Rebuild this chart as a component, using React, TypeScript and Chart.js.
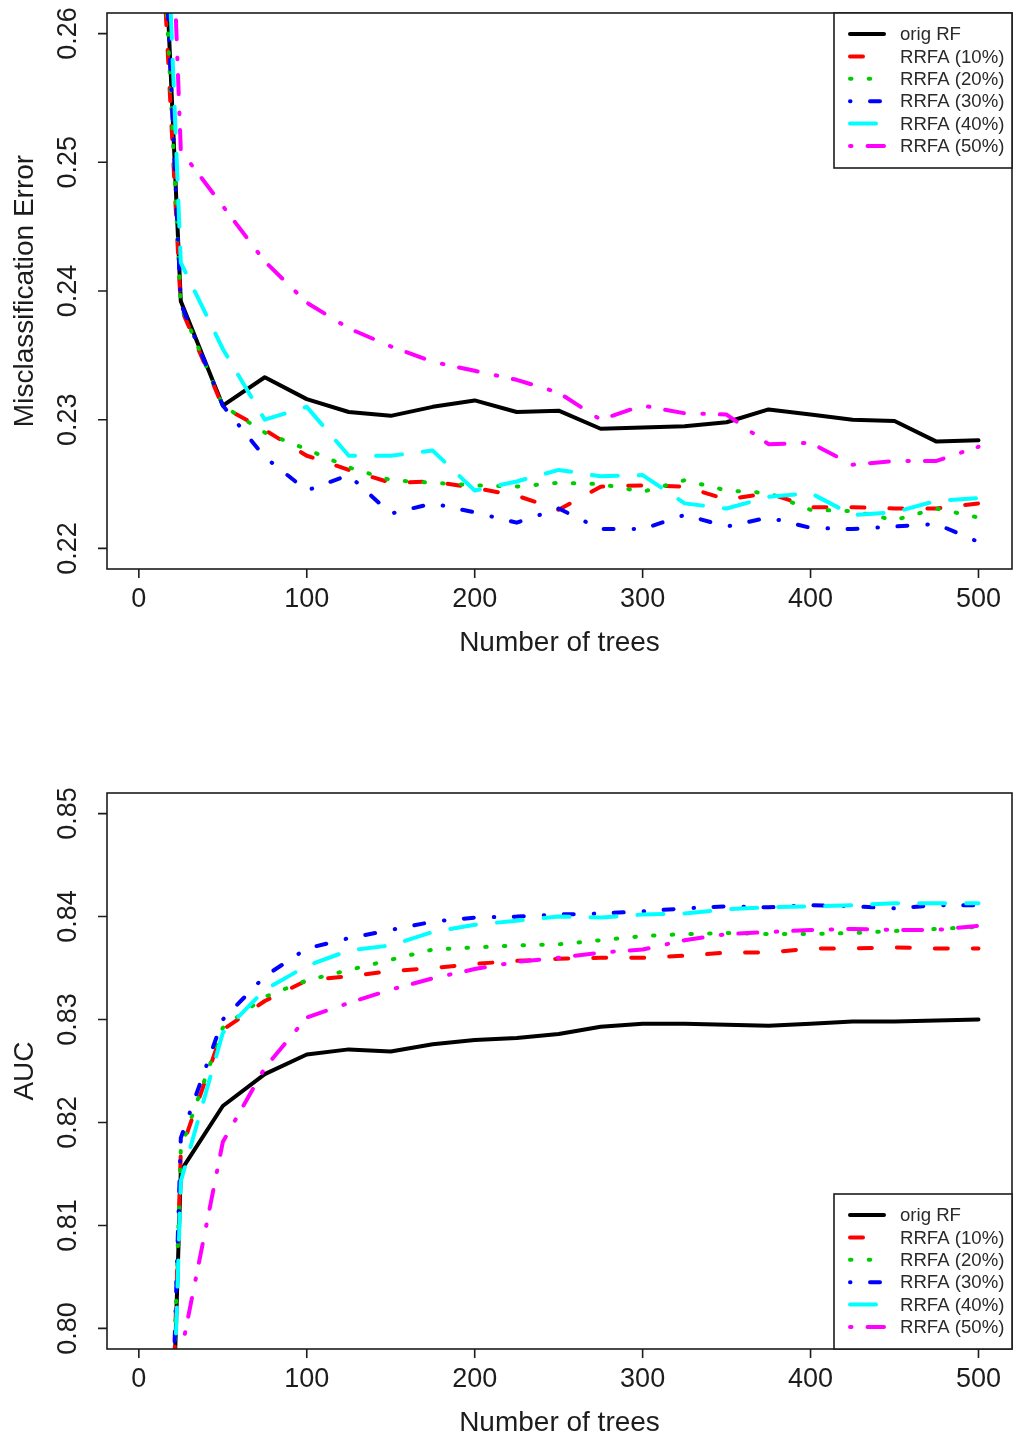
import React, { useEffect, useRef } from "react";
import { Chart, registerables } from "chart.js";

Chart.register(...registerables);

// ---------- data ----------
const trees = [1, 25, 50, 75, 100, 125, 150, 175, 200, 225, 250, 275, 300, 325, 350, 375, 400, 425, 450, 475, 500];

const seriesLabels = ["orig RF", "RRFA (10%)", "RRFA (20%)", "RRFA (30%)", "RRFA (40%)", "RRFA (50%)"];

const errOrig = [0.310, 0.2392, 0.2311, 0.2333, 0.2316, 0.2306, 0.2303, 0.2310, 0.2315, 0.2306, 0.2307, 0.2293, 0.2294, 0.2295, 0.2298, 0.2308, 0.2304, 0.2300, 0.2299, 0.2283, 0.2284];
const err10 = [0.300, 0.2387, 0.2310, 0.2292, 0.2272, 0.2261, 0.2251, 0.2252, 0.2247, 0.2241, 0.2230, 0.2248, 0.2249, 0.2248, 0.2238, 0.2243, 0.2232, 0.2232, 0.2231, 0.2231, 0.2235];
const err20 = [0.305, 0.2388, 0.2311, 0.2290, 0.2277, 0.2263, 0.2253, 0.2251, 0.2249, 0.2248, 0.2251, 0.2250, 0.2244, 0.2253, 0.2245, 0.2243, 0.2230, 0.2229, 0.2222, 0.2231, 0.2224];
const err30 = [0.310, 0.2390, 0.2311, 0.2271, 0.2245, 0.2257, 0.2227, 0.2235, 0.2228, 0.2220, 0.2231, 0.2215, 0.2215, 0.2226, 0.2217, 0.2224, 0.2216, 0.2215, 0.2217, 0.2219, 0.2205];
const err40 = [0.320, 0.2422, 0.2355, 0.2300, 0.2310, 0.2272, 0.2272, 0.2276, 0.2245, 0.2252, 0.2261, 0.2256, 0.2257, 0.2235, 0.2231, 0.2240, 0.2243, 0.2226, 0.2228, 0.2237, 0.2239];
const err50 = [0.335, 0.2509, 0.2466, 0.2423, 0.2391, 0.2371, 0.2357, 0.2345, 0.2338, 0.2331, 0.2321, 0.2300, 0.2311, 0.2305, 0.2304, 0.2281, 0.2282, 0.2265, 0.2268, 0.2268, 0.2279];

const aucOrig = [0.69, 0.8153, 0.8216, 0.8247, 0.8266, 0.8271, 0.8269, 0.8276, 0.8280, 0.8282, 0.8286, 0.8293, 0.8296, 0.8296, 0.8295, 0.8294, 0.8296, 0.8298, 0.8298, 0.8299, 0.8300];
const auc10 = [0.69, 0.8172, 0.8290, 0.8318, 0.8338, 0.8342, 0.8347, 0.8350, 0.8354, 0.8357, 0.8359, 0.8360, 0.8360, 0.8362, 0.8365, 0.8365, 0.8369, 0.8369, 0.8370, 0.8369, 0.8369];
const auc20 = [0.69, 0.8175, 0.8292, 0.8322, 0.8338, 0.8348, 0.8358, 0.8368, 0.8370, 0.8372, 0.8373, 0.8377, 0.8381, 0.8383, 0.8384, 0.8383, 0.8383, 0.8384, 0.8386, 0.8388, 0.8390];
const auc30 = [0.69, 0.8185, 0.8300, 0.8342, 0.8369, 0.8379, 0.8387, 0.8395, 0.8399, 0.8400, 0.8402, 0.8403, 0.8405, 0.8408, 0.8410, 0.8409, 0.8411, 0.8410, 0.8408, 0.8411, 0.8411];
const auc40 = [0.69, 0.8143, 0.8287, 0.8329, 0.8352, 0.8367, 0.8372, 0.8385, 0.8392, 0.8396, 0.8400, 0.8399, 0.8402, 0.8403, 0.8407, 0.8409, 0.8410, 0.8411, 0.8413, 0.8413, 0.8413];
const auc50 = [0.65, 0.7975, 0.8181, 0.8253, 0.8302, 0.8316, 0.8329, 0.8340, 0.8349, 0.8356, 0.8360, 0.8365, 0.8368, 0.8377, 0.8383, 0.8385, 0.8387, 0.8388, 0.8387, 0.8387, 0.8391];

const xTicks = [0, 100, 200, 300, 400, 500];
const xTickLabels = ["0", "100", "200", "300", "400", "500"];
const errTicks = [0.22, 0.23, 0.24, 0.25, 0.26];
const errTickLabels = ["0.22", "0.23", "0.24", "0.25", "0.26"];
const aucTicks = [0.80, 0.81, 0.82, 0.83, 0.84, 0.85];
const aucTickLabels = ["0.80", "0.81", "0.82", "0.83", "0.84", "0.85"];

const xTitle = "Number of trees";
const errTitle = "Misclassification Error";
const aucTitle = "AUC";

// ---------- styles ----------
const seriesColors = ["#000000", "#FF0000", "#00CD00", "#0000FF", "#00FFFF", "#FF00FF"];
const seriesDashes: number[][] = [[], [13, 25], [1.5, 17.2], [0.5, 19.5, 10, 20], [26, 21], [1.5, 16, 19, 18.5]];
const FONT = '"Liberation Sans", Arial, Helvetica, sans-serif';
const INK = "#1c1c1c";

function makeDatasets(series: number[][]) {
  return series.map((vals, i) => ({
    label: seriesLabels[i],
    data: trees.map((t, j) => ({ x: t, y: vals[j] })),
    borderColor: seriesColors[i],
    backgroundColor: seriesColors[i],
    borderWidth: 4,
    borderDash: seriesDashes[i],
    borderCapStyle: "round",
    borderJoinStyle: "round",
    pointRadius: 0,
    pointHoverRadius: 0,
    tension: 0,
    fill: false,
    order: series.length - 1 - i,
    clip: 0,
  }));
}

const rPlotPlugin = {
  id: "rplot",
  afterDraw(chart: any, _args: any, opts: any) {
    const { ctx, chartArea: a, scales } = chart;
    const xs = scales.x;
    const ys = scales.y;
    ctx.save();
    // box
    ctx.setLineDash([]);
    ctx.strokeStyle = INK;
    ctx.lineWidth = 1.6;
    ctx.strokeRect(a.left, a.top, a.right - a.left, a.bottom - a.top);
    // ticks
    ctx.beginPath();
    for (const v of opts.xTicks) {
      const p = xs.getPixelForValue(v);
      ctx.moveTo(p, a.bottom);
      ctx.lineTo(p, a.bottom + 9);
    }
    for (const v of opts.yTicks) {
      const p = ys.getPixelForValue(v);
      ctx.moveTo(a.left - 9, p);
      ctx.lineTo(a.left, p);
    }
    ctx.stroke();
    // tick labels
    ctx.fillStyle = INK;
    ctx.font = `27px ${FONT}`;
    ctx.textAlign = "center";
    ctx.textBaseline = "middle";
    opts.xTicks.forEach((v: number, i: number) => {
      ctx.fillText(opts.xLabels[i], xs.getPixelForValue(v), a.bottom + 31);
    });
    opts.yTicks.forEach((v: number, i: number) => {
      ctx.save();
      ctx.translate(a.left - 38, ys.getPixelForValue(v));
      ctx.rotate(-Math.PI / 2);
      ctx.fillText(opts.yLabels[i], 0, 0);
      ctx.restore();
    });
    // titles
    ctx.font = `28px ${FONT}`;
    ctx.fillText(opts.xTitle, (a.left + a.right) / 2, a.bottom + 74);
    ctx.save();
    ctx.translate(a.left - 82, (a.top + a.bottom) / 2);
    ctx.rotate(-Math.PI / 2);
    ctx.fillText(opts.yTitle, 0, 0);
    ctx.restore();
    // legend
    const lw = 178;
    const lh = 155;
    const bx = a.right - lw;
    const by = opts.legendPos === "top" ? a.top : a.bottom - lh;
    ctx.fillStyle = "#ffffff";
    ctx.fillRect(bx, by, lw, lh);
    ctx.strokeStyle = INK;
    ctx.lineWidth = 1.6;
    ctx.strokeRect(bx, by, lw, lh);
    ctx.font = `18.6px ${FONT}`;
    ctx.textAlign = "left";
    chart.data.datasets.forEach((ds: any, i: number) => {
      const ry = by + 21 + i * 22.4;
      ctx.save();
      ctx.strokeStyle = ds.borderColor;
      ctx.lineWidth = ds.borderWidth;
      ctx.lineCap = "round";
      ctx.setLineDash(ds.borderDash || []);
      ctx.beginPath();
      ctx.moveTo(bx + 16, ry);
      ctx.lineTo(bx + 50, ry);
      ctx.stroke();
      ctx.restore();
      ctx.fillStyle = "#2a2a2a";
      ctx.fillText(ds.label, bx + 66, ry + 1);
    });
    ctx.restore();
  },
};

function buildConfig(series: number[][], yTicks: number[], yLabels: string[], yTitle: string, legendPos: string, padding: any) {
  const xSpan = trees[trees.length - 1] - trees[0];
  const ySpan = yTicks[yTicks.length - 1] - yTicks[0];
  return {
    type: "line",
    data: { datasets: makeDatasets(series) },
    options: {
      animation: false,
      responsive: false,
      maintainAspectRatio: false,
      devicePixelRatio: 1,
      layout: { padding },
      events: [],
      scales: {
        x: { type: "linear", min: trees[0] - 0.04 * xSpan, max: trees[trees.length - 1] + 0.04 * xSpan, display: false },
        y: { type: "linear", min: yTicks[0] - 0.04 * ySpan, max: yTicks[yTicks.length - 1] + 0.04 * ySpan, display: false },
      },
      plugins: {
        legend: { display: false },
        tooltip: { enabled: false },
        rplot: { xTicks, xLabels: xTickLabels, yTicks, yLabels, xTitle, yTitle, legendPos },
      },
    },
    plugins: [rPlotPlugin],
  };
}

export default function App() {
  const topRef = useRef<HTMLCanvasElement>(null);
  const botRef = useRef<HTMLCanvasElement>(null);

  useEffect(() => {
    const c1 = new Chart(
      topRef.current as HTMLCanvasElement,
      buildConfig([errOrig, err10, err20, err30, err40, err50], errTicks, errTickLabels, errTitle, "top", { top: 13, left: 107, right: 5, bottom: 151 }) as any
    );
    const c2 = new Chart(
      botRef.current as HTMLCanvasElement,
      buildConfig([aucOrig, auc10, auc20, auc30, auc40, auc50], aucTicks, aucTickLabels, aucTitle, "bottom", { top: 73, left: 107, right: 5, bottom: 90 }) as any
    );
    return () => {
      c1.destroy();
      c2.destroy();
    };
  }, []);

  return (
    <div style={{ position: "absolute", left: 0, top: 0, width: 1017, height: 1439, background: "#ffffff" }}>
      <canvas ref={topRef} width={1017} height={720} style={{ position: "absolute", left: 0, top: 0, width: 1017, height: 720 }} />
      <canvas ref={botRef} width={1017} height={719} style={{ position: "absolute", left: 0, top: 720, width: 1017, height: 719 }} />
    </div>
  );
}
